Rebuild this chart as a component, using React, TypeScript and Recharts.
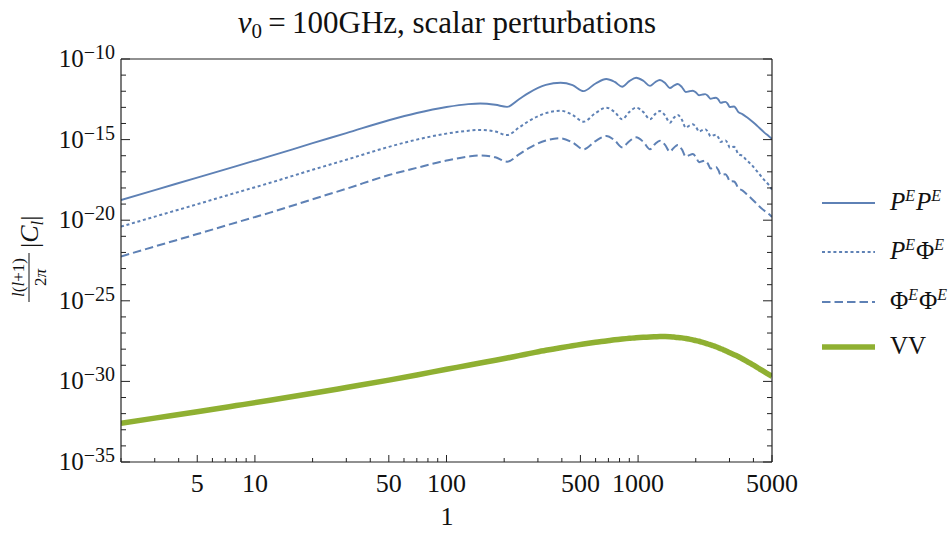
import React from "react";
import { LineChart, Line, XAxis, YAxis, Legend, ReferenceLine } from "recharts";

const SERIF = '"Liberation Serif", "Times New Roman", serif';
const BLUE = "#5E81B5";
const GREEN = "#8FB032";
const FRAME = "#222";

// multipole l
const ELL = [
  2, 3, 5, 8, 12, 20, 30, 50, 70, 100, 130, 150, 180, 207, 239, 269, 330, 394,
  455, 519, 600, 682, 755, 826, 900, 977, 1065, 1154, 1227, 1300, 1383, 1465,
  1538, 1611, 1693, 1774, 1852, 1930, 2005, 2080, 2160, 2240, 2315, 2390, 2470,
  2550, 2625, 2700, 2780, 2860, 2935, 3010, 3090, 3170, 3250, 3330, 3500, 3700,
  3900, 4100, 4300, 4550, 4800, 5000,
];

// log10 of l(l+1)/2pi |C_l|
const PE_PE = [
  -18.75, -18.13, -17.36, -16.64, -16.03, -15.22, -14.6, -13.8, -13.35, -12.98,
  -12.8, -12.76, -12.84, -12.97, -12.5, -12.1, -11.61, -11.47, -11.62, -11.99,
  -11.52, -11.24, -11.42, -11.72, -11.37, -11.16, -11.35, -11.67, -11.44, -11.3,
  -11.49, -11.8, -11.65, -11.55, -11.74, -12.05, -12.0, -11.97, -12.08, -12.25,
  -12.21, -12.18, -12.29, -12.47, -12.43, -12.4, -12.52, -12.72, -12.68, -12.66,
  -12.78, -12.98, -12.96, -12.95, -13.08, -13.28, -13.42, -13.62, -13.83, -14.05,
  -14.28, -14.55, -14.78, -14.96,
];

const PE_PHI = [
  -20.4, -19.78, -19.01, -18.29, -17.68, -16.87, -16.25, -15.45, -15.0, -14.63,
  -14.45, -14.4, -14.5, -14.72, -14.25, -13.85, -13.36, -13.21, -13.47, -13.89,
  -13.35, -13.02, -13.29, -13.74, -13.29, -13.02, -13.29, -13.74, -13.42, -13.23,
  -13.5, -13.95, -13.65, -13.47, -13.77, -14.26, -14.13, -14.05, -14.22, -14.5,
  -14.41, -14.35, -14.52, -14.8, -14.74, -14.7, -14.87, -15.15, -15.09, -15.05,
  -15.22, -15.5, -15.47, -15.45, -15.62, -15.9, -16.0, -16.3, -16.55, -16.85,
  -17.15, -17.5, -17.8, -18.1,
];

const PHI_PHI = [
  -22.25, -21.63, -20.86, -20.14, -19.53, -18.7, -18.05, -17.2, -16.75, -16.3,
  -16.05, -15.98, -16.1, -16.37, -15.92, -15.53, -15.06, -14.92, -15.18, -15.6,
  -15.09, -14.78, -15.05, -15.48, -15.1, -14.86, -15.14, -15.6, -15.27, -15.07,
  -15.33, -15.75, -15.5, -15.34, -15.61, -16.06, -15.96, -15.9, -16.09, -16.4,
  -16.34, -16.3, -16.49, -16.8, -16.74, -16.7, -16.89, -17.2, -17.17, -17.15,
  -17.32, -17.6, -17.58, -17.6, -17.75, -18.0, -18.15, -18.4, -18.65, -18.9,
  -19.15, -19.4, -19.6, -19.8,
];

const VV = [
  -32.6, -32.28, -31.88, -31.5, -31.17, -30.74, -30.38, -29.92, -29.6, -29.25,
  -29.0, -28.86, -28.69, -28.55, -28.4, -28.28, -28.07, -27.91, -27.79, -27.68,
  -27.57, -27.49, -27.42, -27.37, -27.33, -27.29, -27.26, -27.24, -27.23, -27.22,
  -27.22, -27.23, -27.25, -27.27, -27.3, -27.34, -27.38, -27.42, -27.47, -27.51,
  -27.57, -27.62, -27.68, -27.73, -27.79, -27.85, -27.91, -27.97, -28.03, -28.1,
  -28.16, -28.22, -28.28, -28.34, -28.4, -28.46, -28.6, -28.76, -28.92, -29.07,
  -29.22, -29.4, -29.56, -29.68,
];

const X_TICKS = [
  2, 3, 4, 5, 6, 7, 8, 9, 10, 20, 30, 40, 50, 60, 70, 80, 90, 100, 200, 300,
  400, 500, 600, 700, 800, 900, 1000, 2000, 3000, 4000, 5000,
];
const X_LABELS = [5, 10, 50, 100, 500, 1000, 5000];

const Y_EXPONENTS = [
  -35, -34, -33, -32, -31, -30, -29, -28, -27, -26, -25, -24, -23, -22, -21,
  -20, -19, -18, -17, -16, -15, -14, -13, -12, -11, -10,
];
const Y_TICKS = Y_EXPONENTS.map((e) => Math.pow(10, e));

const rows = ELL.map((l, i) => ({
  l,
  pp: Math.pow(10, PE_PE[i]),
  pf: Math.pow(10, PE_PHI[i]),
  ff: Math.pow(10, PHI_PHI[i]),
  vv: Math.pow(10, VV[i]),
}));

const XTick = (props: any) => {
  const { x, y, payload } = props;
  const v = payload.value;
  const major = X_LABELS.includes(v);
  return (
    <g>
      <line x1={x} x2={x} y1={y} y2={y - (major ? 7 : 4)} stroke={FRAME} strokeWidth={1} />
      {major && (
        <text x={x} y={y + 30} textAnchor="middle" fontSize={26} fontFamily={SERIF} fill="#111">
          {v}
        </text>
      )}
    </g>
  );
};

const YTick = (props: any) => {
  const { x, y, payload, side } = props;
  const e = Math.round(Math.log10(payload.value));
  const major = e % 5 === 0;
  const len = major ? 9 : 5;
  const dir = side === "left" ? 1 : -1;
  return (
    <g>
      <line x1={x} x2={x + dir * len} y1={y} y2={y} stroke={FRAME} strokeWidth={1} />
      {side === "left" && major && (
        <text x={x - 6} y={y + 8} textAnchor="end" fontSize={25} fontFamily={SERIF} fill="#111">
          10
          <tspan fontSize={20} dy={-8}>
            {"\u2212" + Math.abs(e)}
          </tspan>
        </text>
      )}
    </g>
  );
};

const YLabel = () => (
  <g transform="translate(31,258) rotate(-90)" fontFamily={SERIF} fill="#111">
    <text x={-19.5} y={-7} textAnchor="middle" fontSize={17}>
      <tspan fontStyle="italic">l</tspan>(<tspan fontStyle="italic">l</tspan>+1)
    </text>
    <line x1={-44} x2={5} y1={-2} y2={-2} stroke="#111" strokeWidth={1} />
    <text x={-19.5} y={15} textAnchor="middle" fontSize={17}>
      2<tspan fontStyle="italic">π</tspan>
    </text>
    <text x={10} y={7} fontSize={26}>
      |<tspan fontStyle="italic">C</tspan>
      <tspan fontStyle="italic" fontSize={17} dy={5}>l</tspan>
      <tspan dy={-5}>|</tspan>
    </text>
  </g>
);

const XLabel = () => (
  <text x={447} y={525} textAnchor="middle" fontSize={26} fontFamily={SERIF} fill="#111">
    1
  </text>
);

// two symbols, each with an italic superscript E
const PairLabel = ({ a, b, aItalic, bItalic }: any) => (
  <>
    <tspan fontStyle={aItalic ? "italic" : "normal"}>{a}</tspan>
    <tspan fontStyle="italic" fontSize={16} dy={-9}>E</tspan>
    <tspan fontStyle={bItalic ? "italic" : "normal"} dy={9} dx={1}>{b}</tspan>
    <tspan fontStyle="italic" fontSize={16} dy={-9}>E</tspan>
  </>
);

const LegendContent = () => {
  const items = [
    { y: 23, dash: undefined, width: 1.9, color: BLUE, label: <PairLabel a="P" b="P" aItalic bItalic /> },
    { y: 72, dash: "3 2.7", width: 2, color: BLUE, label: <PairLabel a="P" b="Φ" aItalic /> },
    { y: 122, dash: "8.5 4", width: 2, color: BLUE, label: <PairLabel a="Φ" b="Φ" /> },
    { y: 167, dash: undefined, width: 5.5, color: GREEN, label: <tspan>VV</tspan> },
  ];
  return (
    <svg width={141} height={190} style={{ overflow: "visible" }}>
      {items.map((it, i) => (
        <g key={i}>
          <line x1={12} x2={65} y1={it.y} y2={it.y} stroke={it.color} strokeWidth={it.width} strokeDasharray={it.dash} />
          <text x={80} y={it.y + 7} fontSize={25} fontFamily={SERIF} fill="#111">
            {it.label}
          </text>
        </g>
      ))}
    </svg>
  );
};

export default function App() {
  return (
    <div style={{ position: "absolute", left: 0, top: 0, width: 951, height: 533, background: "#fff" }}>
      <svg width={951} height={45} style={{ position: "absolute", left: 0, top: 0 }}>
        <text x={447} y={33} textAnchor="middle" fontSize={31} fontFamily={SERIF} fill="#111">
          <tspan fontStyle="italic">ν</tspan>
          <tspan fontSize={21} dy={5}>0</tspan>
          <tspan dy={-5}>{"\u2009=\u2009100GHz, scalar perturbations"}</tspan>
        </text>
      </svg>
      <LineChart width={951} height={533} data={rows} margin={{ top: 59, right: 169, bottom: 31, left: 21 }}>
        <XAxis
          dataKey="l"
          type="number"
          scale="log"
          domain={[2, 5000]}
          allowDataOverflow
          ticks={X_TICKS}
          interval={0}
          tick={(p: any) => <XTick {...p} />}
          tickLine={false}
          tickSize={0}
          tickMargin={0}
          height={40}
          axisLine={{ stroke: FRAME, strokeWidth: 1.2 }}
          label={<XLabel />}
        />
        <YAxis
          type="number"
          scale="log"
          domain={[1e-35, 1e-10]}
          allowDataOverflow
          ticks={Y_TICKS}
          interval={0}
          tick={(p: any) => <YTick {...p} side="left" />}
          tickLine={false}
          tickSize={0}
          tickMargin={0}
          width={100}
          axisLine={{ stroke: FRAME, strokeWidth: 1.2 }}
          label={<YLabel />}
        />
        <YAxis
          yAxisId="right"
          orientation="right"
          type="number"
          scale="log"
          domain={[1e-35, 1e-10]}
          allowDataOverflow
          ticks={Y_TICKS}
          interval={0}
          tick={(p: any) => <YTick {...p} side="right" />}
          tickLine={false}
          tickSize={0}
          tickMargin={0}
          width={10}
          axisLine={{ stroke: FRAME, strokeWidth: 1.2 }}
        />
        <ReferenceLine y={1e-10} stroke={FRAME} strokeWidth={1.2} />
        <Line type="monotone" dataKey="vv" stroke={GREEN} strokeWidth={5.5} dot={false} isAnimationActive={false} />
        <Line type="monotone" dataKey="ff" stroke={BLUE} strokeWidth={2} strokeDasharray="8.5 4" dot={false} isAnimationActive={false} />
        <Line type="monotone" dataKey="pf" stroke={BLUE} strokeWidth={2} strokeDasharray="3 2.7" dot={false} isAnimationActive={false} />
        <Line type="monotone" dataKey="pp" stroke={BLUE} strokeWidth={1.9} dot={false} isAnimationActive={false} />
        <Legend
          content={<LegendContent />}
          layout="vertical"
          align="center"
          verticalAlign="middle"
          wrapperStyle={{ left: 810, top: 180, width: 141, height: 190 }}
        />
      </LineChart>
    </div>
  );
}
